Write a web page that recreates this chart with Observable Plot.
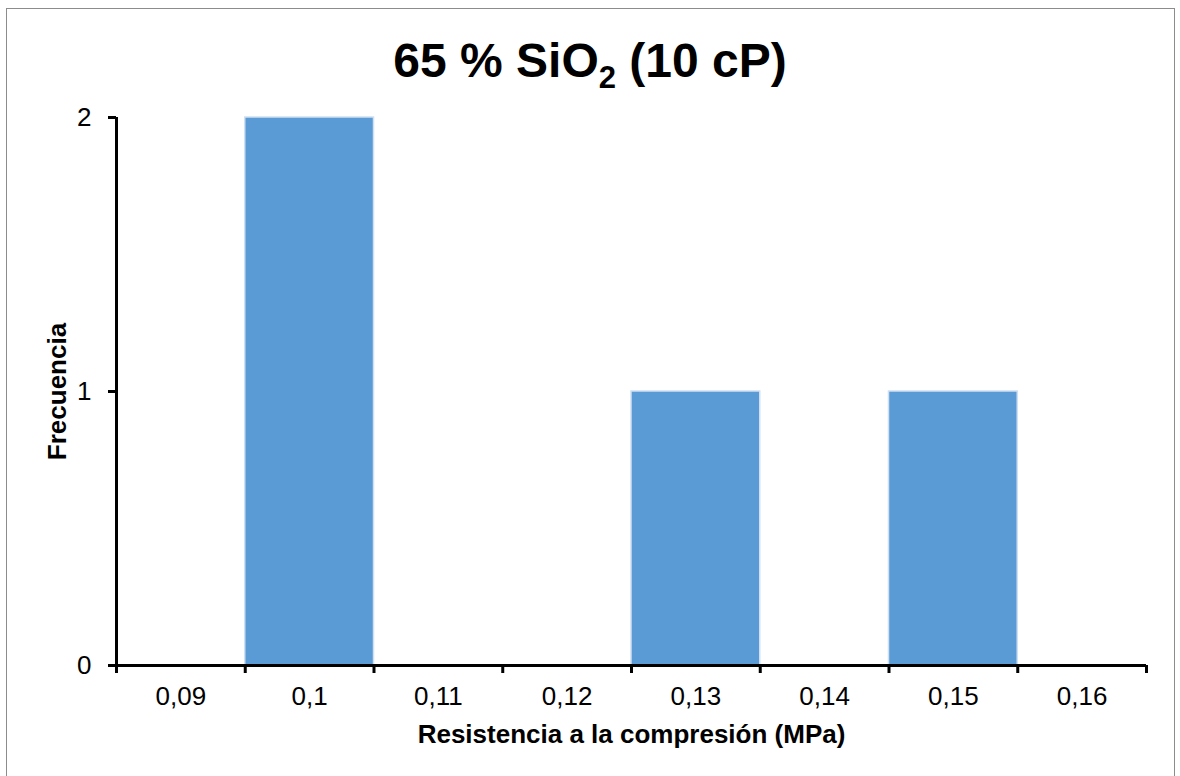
<!DOCTYPE html>
<html><head><meta charset="utf-8">
<script src="https://cdn.jsdelivr.net/npm/d3@7"></script>
<script src="https://cdn.jsdelivr.net/npm/@observablehq/plot@0.6"></script>
<style>
body{margin:0;background:#fff;}
#wrap{position:relative;width:1180px;height:776px;overflow:hidden;}
#border{position:absolute;left:6px;top:8px;width:1169px;height:780px;border:1.5px solid #8c8c8c;box-sizing:border-box;pointer-events:none;}
#title{position:absolute;left:0;width:1180px;top:37px;text-align:center;font:bold 48px "Liberation Sans",Arial,sans-serif;line-height:48px;color:#000;}
#title sub{font-size:31px;line-height:0;vertical-align:-11px;}
svg{display:block;}
</style></head><body>
<div id="wrap"><div id="chart"></div><div id="title">65 % SiO<sub>2</sub> (10 cP)</div><div id="border"></div></div>
<script>
const categories = [0.09, 0.10, 0.11, 0.12, 0.13, 0.14, 0.15, 0.16];
const frequencies = [0, 2, 0, 0, 1, 0, 1, 0];
const yTicks = [0, 1, 2];
const binHalfWidth = 0.005;
const xLabel = "Resistencia a la compresión (MPa)";
const yLabel = "Frecuencia";

const data = categories.map((c, i) => ({x: c, f: frequencies[i]}));
const boundaries = categories.map(c => c - binHalfWidth).concat([categories[categories.length - 1] + binHalfWidth]);
const font = '"Liberation Sans", Arial, sans-serif';
const fmt = d => String(d).replace(".", ",");

const chart = Plot.plot({
  width: 1180, height: 776,
  marginLeft: 116, marginRight: 34, marginTop: 117, marginBottom: 111,
  x: {domain: [boundaries[0], boundaries[boundaries.length - 1]]},
  y: {domain: [0, 2]},
  style: {fontFamily: font, fontSize: "26px", color: "#000", background: "transparent"},
  marks: [
    Plot.rectY(data.filter(d => d.f > 0), {x1: d => d.x - binHalfWidth, x2: d => d.x + binHalfWidth, y: "f", fill: "#5B9BD5", stroke: "#cfe0f2", strokeWidth: 1.5}),
    Plot.axisX(boundaries, {tickFormat: () => "", tickSize: 8, strokeWidth: 3, label: null}),
    Plot.axisX(categories, {tickSize: 0, tickPadding: 21, tickFormat: fmt, label: null, fontSize: 26}),
    Plot.axisY(yTicks, {tickSize: 8, tickPadding: 17, tickFormat: d => String(d), strokeWidth: 3, label: null, fontSize: 26}),
    Plot.ruleY([0], {stroke: "#000", strokeWidth: 3}),
    Plot.ruleX([boundaries[0]], {stroke: "#000", strokeWidth: 3}),
    Plot.text([xLabel], {frameAnchor: "bottom", lineAnchor: "middle", dy: 69, fontWeight: "bold", fontSize: 26, fill: "#000"}),
    Plot.text([yLabel], {frameAnchor: "left", textAnchor: "middle", lineAnchor: "middle", dx: -59, rotate: -90, fontWeight: "bold", fontSize: 26, fill: "#000"})
  ]
});
document.getElementById("chart").appendChild(chart);
</script>
</body></html>
